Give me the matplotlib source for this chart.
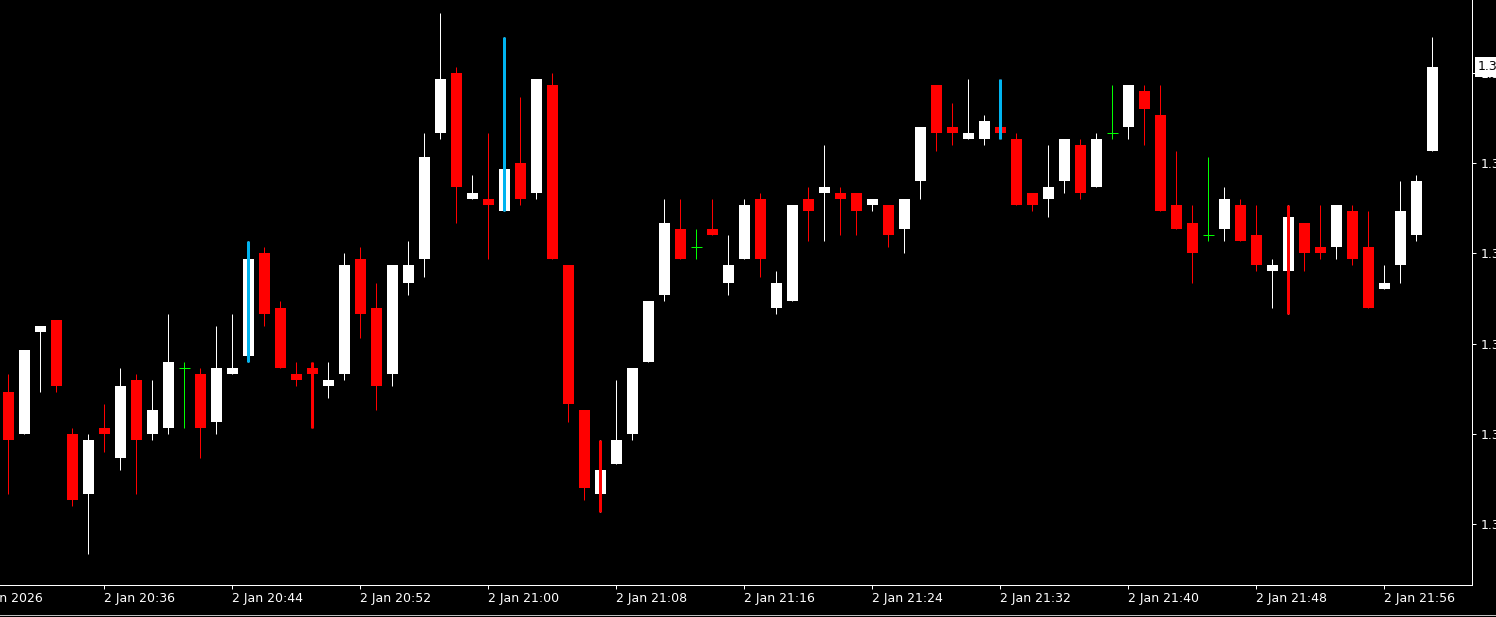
import matplotlib
matplotlib.use("Agg")
import matplotlib.pyplot as plt
from matplotlib.transforms import blended_transform_factory
from matplotlib.lines import Line2D

# ---------------- data (1-minute candles, 2 Jan 20:30 .. 21:59) ----------------
opens = [1.34737, 1.34730, 1.34747, 1.34749, 1.34730, 1.34720, 1.34731, 1.34726, 1.34739, 1.34730,
         1.34731, 1.34741, 1.34740, 1.34732, 1.34740, 1.34743, 1.34760, 1.34751, 1.34740, 1.34741,
         1.34738, 1.34740, 1.34759, 1.34751, 1.34740, 1.34755, 1.34759, 1.34780, 1.34790, 1.34769,
         1.34769, 1.34767, 1.34775, 1.34770, 1.34788, 1.34758, 1.34734, 1.34720, 1.34725, 1.34730,
         1.34742, 1.34753, 1.34764, 1.34761, 1.34764, 1.34755, 1.34759, 1.34769, 1.34751, 1.34752,
         1.34769, 1.34770, 1.34770, 1.34770, 1.34768, 1.34768, 1.34764, 1.34772, 1.34788, 1.34781,
         1.34779, 1.34779, 1.34781, 1.34779, 1.34770, 1.34769, 1.34772, 1.34778, 1.34771, 1.34780,
         1.34781, 1.34787, 1.34783, 1.34768, 1.34765, 1.34763, 1.34764, 1.34768, 1.34763, 1.34757,
         1.34757, 1.34765, 1.34761, 1.34761, 1.34767, 1.34761, 1.34754, 1.34758, 1.34763, 1.34777]
highs = [1.34740, 1.34744, 1.34748, 1.34749, 1.34731, 1.34730, 1.34735, 1.34741, 1.34740, 1.34739,
         1.34750, 1.34742, 1.34741, 1.34748, 1.34750, 1.34762, 1.34761, 1.34752, 1.34742, 1.34742,
         1.34742, 1.34760, 1.34761, 1.34755, 1.34758, 1.34762, 1.34780, 1.34800, 1.34791, 1.34773,
         1.34780, 1.34796, 1.34786, 1.34789, 1.34790, 1.34758, 1.34734, 1.34729, 1.34739, 1.34741,
         1.34752, 1.34769, 1.34769, 1.34764, 1.34769, 1.34763, 1.34769, 1.34770, 1.34757, 1.34768,
         1.34771, 1.34778, 1.34771, 1.34770, 1.34769, 1.34768, 1.34769, 1.34781, 1.34788, 1.34785,
         1.34789, 1.34783, 1.34789, 1.34780, 1.34770, 1.34778, 1.34779, 1.34779, 1.34780, 1.34788,
         1.34788, 1.34788, 1.34788, 1.34777, 1.34768, 1.34776, 1.34771, 1.34769, 1.34768, 1.34759,
         1.34768, 1.34765, 1.34768, 1.34768, 1.34768, 1.34767, 1.34758, 1.34772, 1.34773, 1.34796]
lows = [1.34720, 1.34730, 1.34737, 1.34737, 1.34718, 1.34710, 1.34727, 1.34724, 1.34720, 1.34729,
        1.34730, 1.34731, 1.34726, 1.34730, 1.34740, 1.34742, 1.34748, 1.34741, 1.34738, 1.34731,
        1.34736, 1.34739, 1.34746, 1.34734, 1.34738, 1.34753, 1.34756, 1.34779, 1.34765, 1.34769,
        1.34759, 1.34767, 1.34768, 1.34769, 1.34759, 1.34732, 1.34719, 1.34717, 1.34725, 1.34729,
        1.34742, 1.34752, 1.34759, 1.34759, 1.34763, 1.34753, 1.34759, 1.34756, 1.34750, 1.34752,
        1.34762, 1.34762, 1.34763, 1.34763, 1.34767, 1.34761, 1.34760, 1.34769, 1.34777, 1.34778,
        1.34779, 1.34778, 1.34779, 1.34768, 1.34767, 1.34766, 1.34770, 1.34769, 1.34771, 1.34779,
        1.34779, 1.34778, 1.34767, 1.34764, 1.34755, 1.34762, 1.34762, 1.34762, 1.34757, 1.34751,
        1.34750, 1.34757, 1.34759, 1.34759, 1.34758, 1.34751, 1.34754, 1.34755, 1.34762, 1.34777]
closes = [1.34729, 1.34744, 1.34748, 1.34738, 1.34719, 1.34729, 1.34730, 1.34738, 1.34729, 1.34734,
          1.34742, 1.34741, 1.34731, 1.34741, 1.34741, 1.34759, 1.34750, 1.34741, 1.34739, 1.34740,
          1.34739, 1.34758, 1.34750, 1.34738, 1.34758, 1.34758, 1.34776, 1.34789, 1.34771, 1.34770,
          1.34768, 1.34774, 1.34769, 1.34789, 1.34759, 1.34735, 1.34721, 1.34724, 1.34729, 1.34741,
          1.34752, 1.34765, 1.34759, 1.34761, 1.34763, 1.34758, 1.34768, 1.34759, 1.34755, 1.34768,
          1.34767, 1.34771, 1.34769, 1.34767, 1.34769, 1.34763, 1.34769, 1.34781, 1.34780, 1.34780,
          1.34780, 1.34782, 1.34780, 1.34768, 1.34768, 1.34771, 1.34779, 1.34770, 1.34779, 1.34780,
          1.34788, 1.34784, 1.34767, 1.34764, 1.34760, 1.34763, 1.34769, 1.34762, 1.34758, 1.34758,
          1.34766, 1.34760, 1.34760, 1.34768, 1.34759, 1.34751, 1.34755, 1.34767, 1.34772, 1.34791]

# bars highlighted by an overlay (thick vertical line over high-low range)
blue_marks = [15, 31, 62]
red_marks = [19, 37, 80]

time_tick_index = [-2, 6, 14, 22, 30, 38, 46, 54, 62, 70, 78, 86]
time_tick_labels = ["2 Jan 2026", "2 Jan 20:36", "2 Jan 20:44", "2 Jan 20:52", "2 Jan 21:00",
                    "2 Jan 21:08", "2 Jan 21:16", "2 Jan 21:24", "2 Jan 21:32", "2 Jan 21:40",
                    "2 Jan 21:48", "2 Jan 21:56"]
price_ticks = [1.34790, 1.34775, 1.34760, 1.34745, 1.34730, 1.34715]

# ---------------- figure ----------------
W, H = 1496, 617
fig = plt.figure(figsize=(W / 100, H / 100), dpi=100, facecolor="black")
ax_left, ax_right, ax_top, ax_bottom = 0, 1472, 0, 585
ax = fig.add_axes([ax_left / W, (H - ax_bottom) / H, (ax_right - ax_left) / W, (ax_bottom - ax_top) / H])
ax.set_facecolor("black")

PX = 0.72  # one pixel in points
BODY_W = 11 / 16.0
WHITE = "#FFFFFF"
RED = "#FF0000"
GREEN = "#00FF00"
BLUE = "#00B4F0"
FS = 9

n = len(opens)
for i in range(n):
    o, h, l, c = opens[i], highs[i], lows[i], closes[i]
    if abs(o - c) < 1e-9:
        col = GREEN
        ax.vlines(i, l, h, color=col, linewidth=PX, zorder=2)
        ax.hlines(o, i - BODY_W / 2, i + BODY_W / 2, color=col, linewidth=PX, zorder=2)
        continue
    col = WHITE if c > o else RED
    ax.vlines(i, l, h, color=col, linewidth=PX, zorder=2)
    ax.bar(i, abs(c - o), width=BODY_W, bottom=min(o, c), color=col, linewidth=0, zorder=3)

for i in blue_marks:
    ax.vlines(i, lows[i], highs[i], color=BLUE, linewidth=3 * PX, zorder=4)
for i in red_marks:
    ax.vlines(i, lows[i], highs[i], color=RED, linewidth=3 * PX, zorder=4)

# scales: 16 px per bar, first bar centre at x=8 px
ax.set_xlim(-0.5, (ax_right - 8) / 16.0)
pt = 1e-5
y_ref_px, px_per_pt = 73.0, 6.013
ax.set_ylim(price_ticks[0] - (ax_bottom - y_ref_px) / px_per_pt * pt,
            price_ticks[0] + (y_ref_px - ax_top) / px_per_pt * pt)

for s in ["left", "top"]:
    ax.spines[s].set_visible(False)
for s in ["right", "bottom"]:
    ax.spines[s].set_color(WHITE)
    ax.spines[s].set_linewidth(PX)

# x ticks
vis = [t for t in time_tick_index if t >= -0.5]
ax.set_xticks(vis)
ax.tick_params(axis="x", colors=WHITE, length=3, width=PX, direction="out", labelbottom=False)
xt = ax.get_xaxis_transform()
for t, lab in zip(time_tick_index, time_tick_labels):
    ax.text(t, -13.5 / 585, lab, transform=xt, color=WHITE, fontsize=FS,
            ha="left", va="center", family="DejaVu Sans", clip_on=False)

# y ticks on the right
ax.yaxis.tick_right()
ax.set_yticks(price_ticks)
ax.set_yticklabels(["%.5f" % p for p in price_ticks])
ax.tick_params(axis="y", colors=WHITE, length=3, width=PX, direction="out", pad=3, labelsize=FS)

# current price label
bt = blended_transform_factory(ax.transAxes, ax.transData)
ax.text(1.0 + 6 / 1472, closes[-1], "%.5f" % closes[-1], transform=bt, color="black", fontsize=FS,
        ha="left", va="center", zorder=10, clip_on=False,
        bbox=dict(boxstyle="square,pad=0.25", facecolor=WHITE, edgecolor="none"))

# bottom frame line (window edge)
fig.add_artist(Line2D([0, 1], [1 - 614.5 / H, 1 - 614.5 / H], transform=fig.transFigure,
                      color="#C0C0C0", linewidth=PX))

fig.savefig("out.png", dpi=100, facecolor="black")
